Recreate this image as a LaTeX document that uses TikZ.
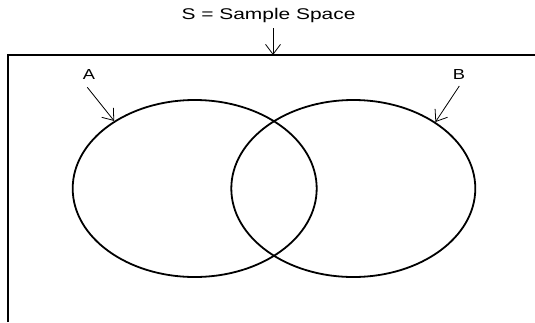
\documentclass[tikz,border=0pt]{standalone}
\usepackage{fontspec}
\usepackage{graphicx}
\setmainfont{Liberation Sans}
\usetikzlibrary{shapes.geometric,arrows.meta}
\begin{document}
\begin{tikzpicture}[x=1pt,y=-1pt,
  setcircle/.style={draw,ellipse,line width=1.8pt,minimum width=244pt,minimum height=177pt,inner sep=0pt},
  pointer/.style={line width=0.8pt,-{Straight Barb[length=10pt,width=15pt,line width=0.8pt]}},
  lbl/.style={inner sep=0pt,font=\fontsize{14.5}{17}\selectfont}]
\useasboundingbox (0,0) rectangle (535,322);
% sample space frame
\draw[line width=1.8pt] (8,322) coordinate (frameBL) -- (8,55) -- (535,55) coordinate (frameTR);
\coordinate (frameTop) at (273,55);
% title
\node[inner sep=0pt,font=\fontsize{15.5}{18}\selectfont] (title) at (268.5,15) {\scalebox{1.35}[1]{S = Sample Space}};
\coordinate (titleFoot) at (273,28);
\draw[pointer] (titleFoot) -- (frameTop);
% sets
\node[setcircle] (ellA) at (194.7,188.5) {};
\node[setcircle] (ellB) at (353.3,188.5) {};
% labels
\node[lbl] (labA) at (89,74.5) {\scalebox{1.26}[1]{A}};
\node[lbl] (labB) at (459,74.5) {\scalebox{1.26}[1]{B}};
\coordinate (startA) at (87.3,87.3);
\coordinate (startB) at (459.3,86);
\draw[pointer] (startA) -- (ellA.140.7);
\draw[pointer] (startB) -- (ellB.39.4);
\end{tikzpicture}
\end{document}
